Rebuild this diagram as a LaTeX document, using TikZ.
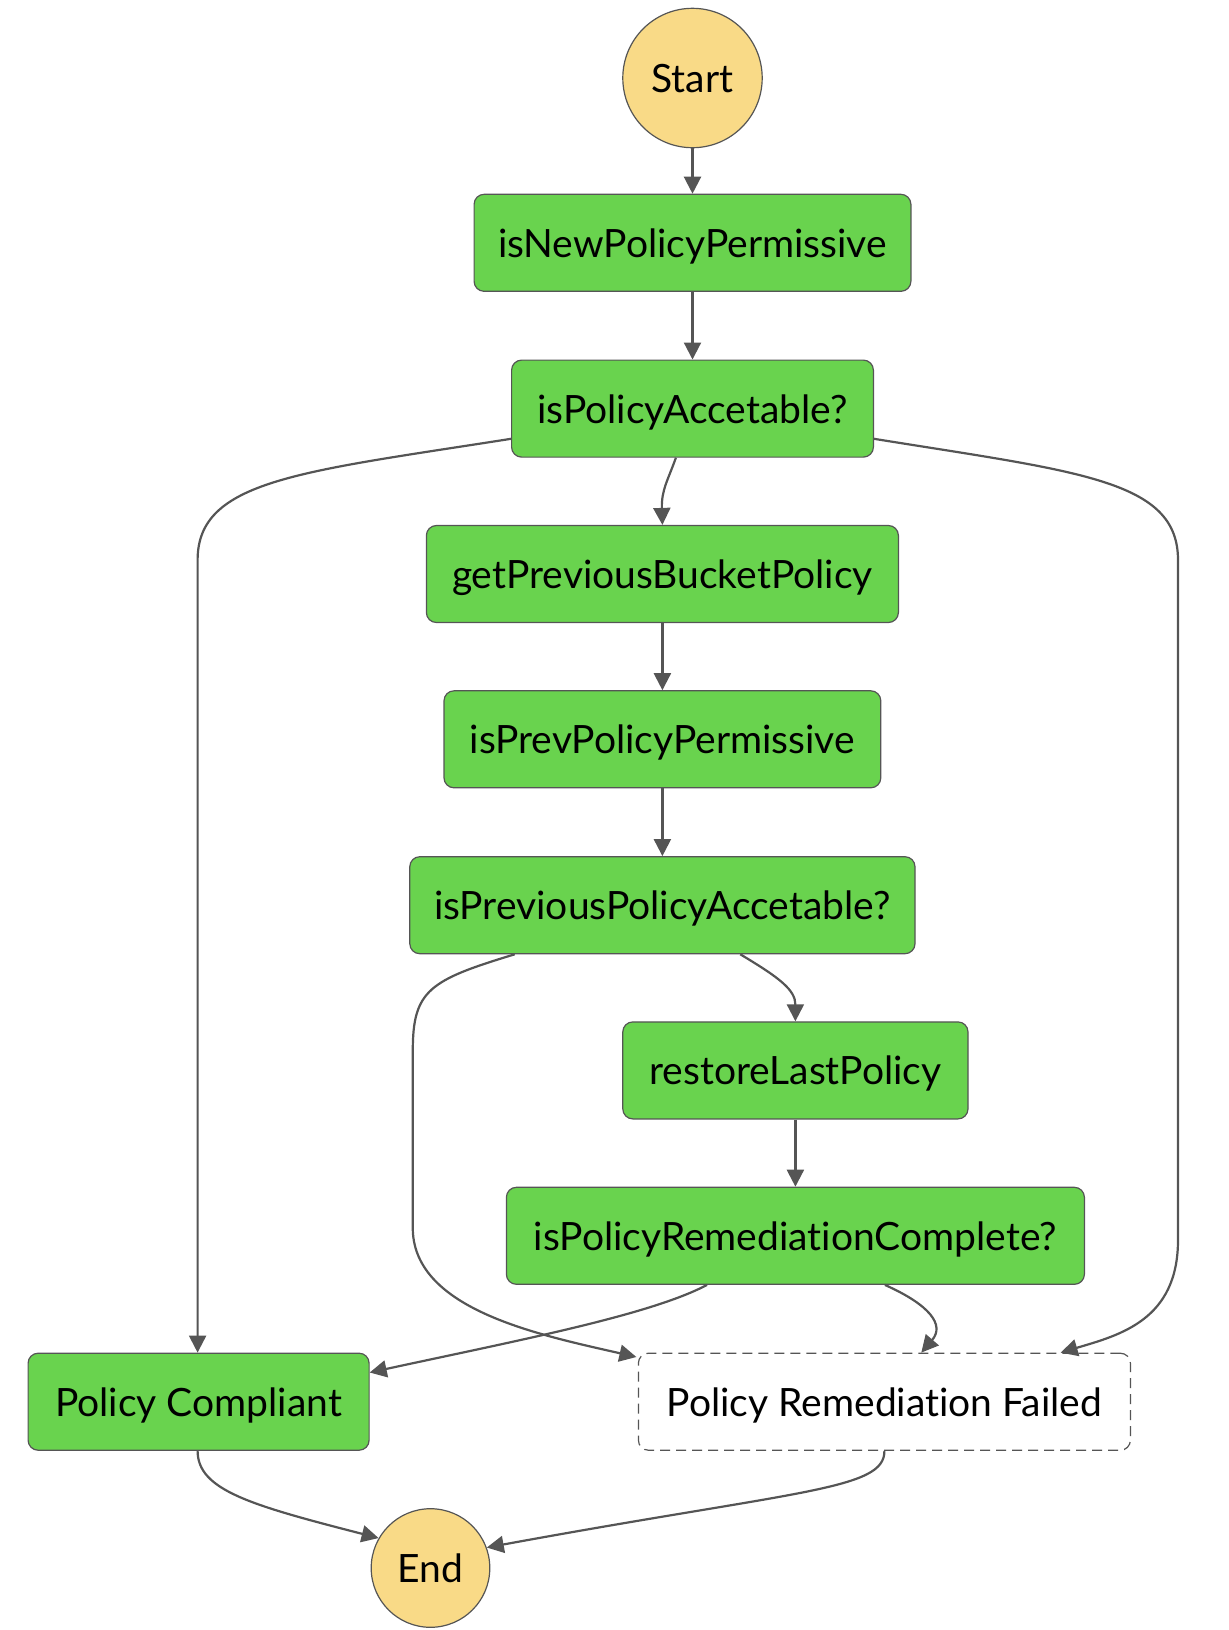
\documentclass[tikz,border=0pt]{standalone}
\usepackage{fontspec}
\setmainfont{Lato}[Ligatures={NoCommon}]
\usetikzlibrary{arrows.meta}
\definecolor{boxgreen}{RGB}{105,211,78}
\definecolor{boxline}{RGB}{85,85,85}
\definecolor{termfill}{RGB}{249,218,135}
\definecolor{edgecol}{RGB}{85,85,85}
\begin{document}
\begin{tikzpicture}[x=0.5pt,y=-0.5pt,
  lbl/.style={font=\fontsize{19.5}{23}\selectfont,text height=15.4pt,text depth=1pt},
  task/.style={lbl,draw=boxline,line width=0.6pt,fill=boxgreen,rounded corners=5pt,minimum height=48.5pt,inner sep=0pt},
  failbox/.style={lbl,draw=boxline,line width=0.6pt,dash pattern=on 5pt off 3pt,fill=white,rounded corners=5pt,minimum height=48.5pt,inner sep=0pt},
  term/.style={lbl,circle,draw=boxline,line width=0.6pt,fill=termfill,inner sep=0pt},
  edge/.style={draw=edgecol,line width=1.1pt,-{Triangle[length=8.5pt,width=8.5pt]}}]
\useasboundingbox (0,0) rectangle (1228,1630);
\node[term,minimum size=69.7pt] (start) at (692.5,78) {Start};
\node[task,minimum width=218.4pt] (n1) at (692.5,242.8) {isNewPolicyPermissive};
\node[task,minimum width=180.9pt] (n2) at (692.5,408.6) {isPolicyAccetable?};
\node[task,minimum width=236pt] (n3) at (662.4,574) {getPreviousBucketPolicy};
\node[task,minimum width=218.4pt] (n4) at (662.4,739.3) {isPrevPolicyPermissive};
\node[task,minimum width=252.6pt] (n5) at (662.4,905.2) {isPreviousPolicyAccetable?};
\node[task,minimum width=172.6pt] (n6) at (795.4,1070.4) {restoreLastPolicy};
\node[task,minimum width=289pt] (n7) at (795.4,1235.8) {isPolicyRemediationComplete?};
\node[task,minimum width=170.5pt] (n8) at (198.6,1401.7) {Policy Compliant};
\node[failbox,minimum width=246pt] (n9) at (884.4,1401.7) {Policy Remediation Failed};
\node[term,minimum size=59.3pt] (end) at (430.5,1568) {End};

\draw[edge] (start) -- (n1);
\draw[edge] (n1) -- (n2);
\draw[edge] (n2.south -| 675.9,0) .. controls (668,480) and (661.3,490) .. (n3.north);
\draw[edge] (n2.west |- 0,438.8) .. controls (300,472) and (197.6,480) .. (197.6,560) -- (n8.north -| 197.6,0);
\draw[edge] (n2.east |- 0,438.8) .. controls (1080,472) and (1178,480) .. (1178,560) -- (1178,1240) .. controls (1178,1320) and (1120,1335) .. (n9.north -| 1060.6,0);
\draw[edge] (n3) -- (n4);
\draw[edge] (n4) -- (n5);
\draw[edge] (n5.south -| 740.3,0) .. controls (780,978) and (795.4,990) .. (n6.north);
\draw[edge] (n5.south -| 514.7,0) .. controls (430,980) and (412.8,990) .. (412.8,1050) -- (412.8,1230) .. controls (415,1310) and (540,1335) .. (636.4,1357);
\draw[edge] (n6) -- (n7);
\draw[edge] (n7.south -| 707,0) .. controls (650,1315) and (520,1340) .. (n8.east |- 0,1372.5);
\draw[edge] (n7.south -| 884.9,0) .. controls (930,1305) and (945,1325) .. (n9.north -| 921.3,0);
\draw[edge] (n8.south -| 197.6,0) .. controls (197.6,1490) and (250,1505) .. (end.150);
\draw[edge] (n9.south) .. controls (884.9,1490) and (800,1490) .. (end.20);
\end{tikzpicture}
\end{document}
